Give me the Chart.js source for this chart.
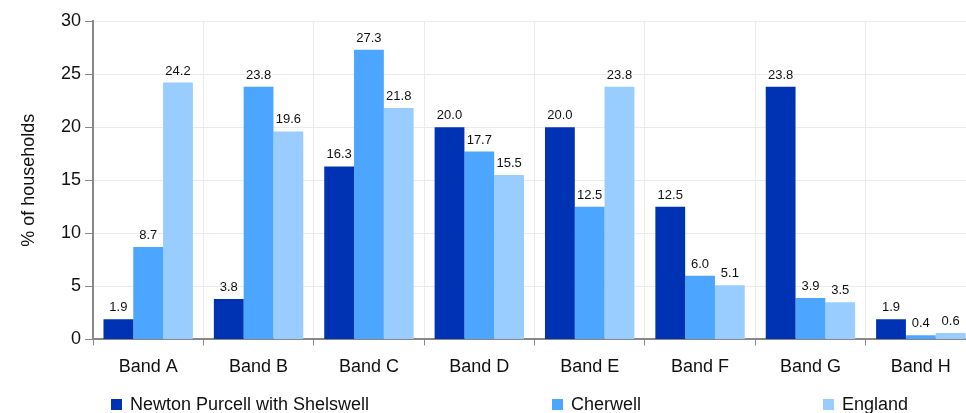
<!DOCTYPE html>
<html>
<head>
<meta charset="utf-8">
<script src="https://cdn.jsdelivr.net/npm/chart.js@4.4.1/dist/chart.umd.min.js"></script>
<style>
  html, body { margin:0; padding:0; background:#fff; overflow:hidden; }
  #wrap { position:absolute; left:0; top:0; width:976px; height:420px; }
</style>
</head>
<body>
<div id="wrap"><canvas id="chart"></canvas></div>
<script>
const bands = ['Band A','Band B','Band C','Band D','Band E','Band F','Band G','Band H'];
const newtonPurcell = [1.9, 3.8, 16.3, 20.0, 20.0, 12.5, 23.8, 1.9];
const cherwell = [8.7, 23.8, 27.3, 17.7, 12.5, 6.0, 3.9, 0.4];
const england = [24.2, 19.6, 21.8, 15.5, 23.8, 5.1, 3.5, 0.6];

const FONT = '"Liberation Sans", Arial, sans-serif';

const valueLabels = {
  id:'valueLabels',
  afterDatasetsDraw(chart){
    const ctx = chart.ctx;
    ctx.save();
    ctx.font = '13px ' + FONT;
    ctx.fillStyle = '#111';
    ctx.textAlign = 'center';
    ctx.textBaseline = 'bottom';
    chart.data.datasets.forEach((ds, i)=>{
      const meta = chart.getDatasetMeta(i);
      meta.data.forEach((bar, j)=>{
        ctx.fillText(ds.data[j].toFixed(1), bar.x, bar.y - 5);
      });
    });
    ctx.restore();
  }
};

// legend spread out in columns under the chart, like the original
const spreadLegend = {
  id:'spreadLegend',
  afterDraw(chart){
    const ctx = chart.ctx;
    const starts = [111, 552, 823];
    const y = 404;
    ctx.save();
    ctx.font = '18px ' + FONT;
    ctx.textBaseline = 'middle';
    ctx.textAlign = 'left';
    chart.data.datasets.forEach((ds, i)=>{
      ctx.fillStyle = ds.backgroundColor;
      ctx.fillRect(starts[i], y - 5, 11, 11);
      ctx.fillStyle = '#111';
      ctx.fillText(ds.label, starts[i] + 19, y + 1);
    });
    ctx.restore();
  }
};

new Chart(document.getElementById('chart'), {
  type:'bar',
  data:{
    labels: bands,
    datasets:[
      { label:'Newton Purcell with Shelswell', data:newtonPurcell, backgroundColor:'#0032b4' },
      { label:'Cherwell', data:cherwell, backgroundColor:'#4ca6ff' },
      { label:'England', data:england, backgroundColor:'#99ccff' }
    ]
  },
  options:{
    responsive:true,
    maintainAspectRatio:false,
    animation:false,
    datasets:{ bar:{ categoryPercentage:0.81, barPercentage:1 } },
    layout:{ padding:{ top:21, right:0, left:0, bottom:31 } },
    plugins:{
      legend:{ display:false },
      tooltip:{ enabled:false }
    },
    scales:{
      x:{
        grid:{ offset:true, color:'#ebebeb', tickColor:'#888', tickLength:6, drawOnChartArea:true },
        border:{ color:'#888', width:2 },
        ticks:{ color:'#111', font:{ size:18, family:FONT }, padding:11 }
      },
      y:{
        min:0, max:30,
        afterFit(scale){ scale.width = 93; },
        grid:{ color:'#ebebeb', tickColor:'#888', tickLength:8 },
        border:{ color:'#888', width:2 },
        ticks:{ stepSize:5, color:'#111', font:{ size:18, family:FONT }, padding:4 },
        title:{ display:true, text:'% of households', color:'#111', font:{ size:18, family:FONT }, padding:{ top:18, bottom:6 } }
      }
    }
  },
  plugins:[valueLabels, spreadLegend]
});
</script>
</body>
</html>
